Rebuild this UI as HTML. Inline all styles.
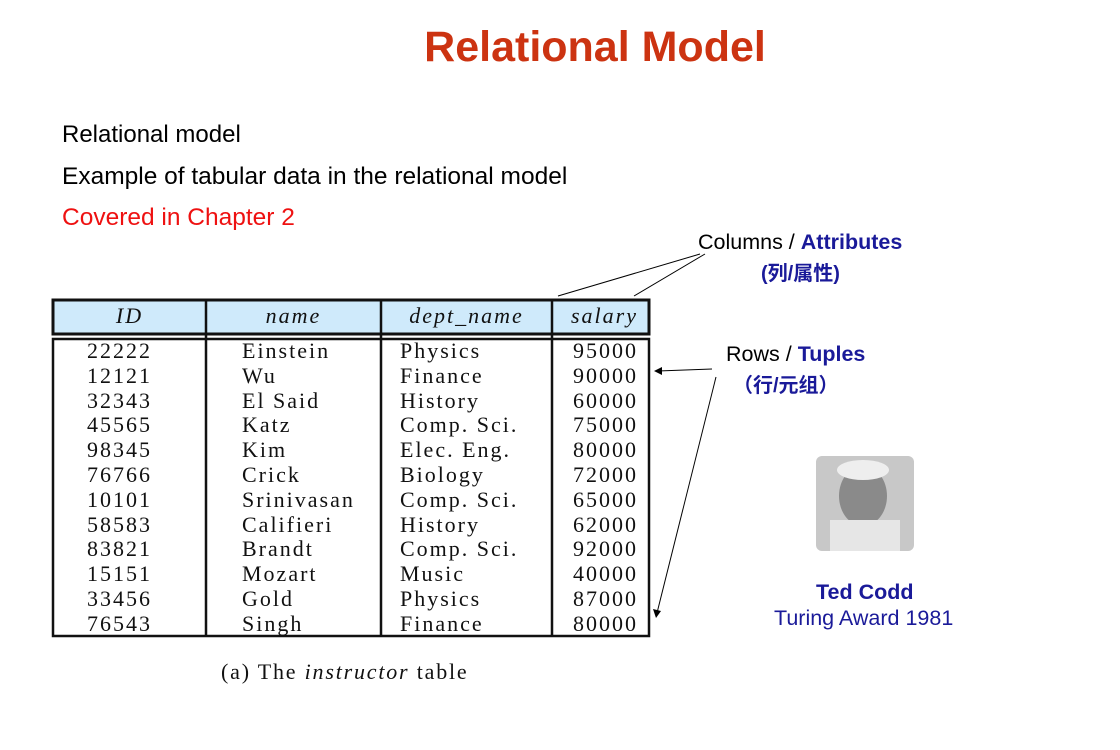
<!DOCTYPE html>
<html><head><meta charset="utf-8"><style>
body{margin:0;width:1120px;height:750px;background:#fff;position:relative;overflow:hidden;font-family:"Liberation Sans","Noto Sans CJK SC",sans-serif}
.a{position:absolute;white-space:nowrap}
.s{font-family:"Liberation Serif",serif;font-size:22px;color:#111;letter-spacing:2px}
</style></head><body>
<div class="a" style="left:0;width:1190px;text-align:center;top:23px;font-size:43px;font-weight:bold;color:#cc3311">Relational Model</div>
<div class="a" style="left:62px;top:121px;font-size:24px">Relational model</div>
<div class="a" style="left:62px;top:163px;font-size:24.5px">Example of tabular data in the relational model</div>
<div class="a" style="left:62px;top:204px;font-size:24.5px;color:#ee1111">Covered in Chapter 2</div>
<div class="a" style="left:698px;top:230px;font-size:21.5px">Columns / <b style="color:#1a1a99">Attributes</b></div>
<div class="a" style="left:761px;top:257px;font-size:20px;font-weight:bold;color:#1a1a99">(列/属性)</div>
<div class="a" style="left:726px;top:342px;font-size:21.5px">Rows / <b style="color:#1a1a99">Tuples</b></div>
<div class="a" style="left:733px;top:369px;font-size:20px;font-weight:bold;color:#1a1a99">（行/元组）</div>
<div class="a" style="left:816px;top:580px;font-size:21.5px;font-weight:bold;color:#1a1a99">Ted Codd</div>
<div class="a" style="left:774px;top:606px;font-size:21.5px;color:#1a1a99">Turing Award 1981</div>
<svg class="a" style="left:0;top:0" width="1120" height="750">
<rect x="53" y="300" width="596" height="34" fill="#cfeafb" stroke="#111" stroke-width="3"/>
<rect x="53" y="339" width="596" height="297" fill="none" stroke="#111" stroke-width="2.5"/>
<g stroke="#111" stroke-width="2.5"><line x1="206" y1="300" x2="206" y2="636"/><line x1="381" y1="300" x2="381" y2="636"/><line x1="552" y1="300" x2="552" y2="636"/></g>
<g stroke="#000" stroke-width="1" fill="none"><line x1="558" y1="296" x2="700" y2="254"/><line x1="634" y1="296" x2="705" y2="254"/>
<line x1="712" y1="369" x2="658" y2="371"/><line x1="716" y1="377" x2="657" y2="613"/></g>
<polygon points="654,371 662,367 662,375" fill="#000"/><polygon points="656,618 653,609 661,611" fill="#000"/>
<rect x="816" y="456" width="98" height="95" rx="6" fill="#c8c8c8"/>
<ellipse cx="863" cy="496" rx="24" ry="30" fill="#8a8a8a"/><ellipse cx="863" cy="470" rx="26" ry="10" fill="#eee"/>
<rect x="830" y="520" width="70" height="31" fill="#e6e6e6"/>
</svg>
<div class="a s" style="left:53px;top:303px;width:153px;text-align:center;font-style:italic">ID</div>
<div class="a s" style="left:206px;top:303px;width:175px;text-align:center;font-style:italic">name</div>
<div class="a s" style="left:381px;top:303px;width:171px;text-align:center;font-style:italic">dept_name</div>
<div class="a s" style="left:552px;top:303px;width:86px;text-align:right;font-style:italic">salary</div>
<div class="a s" style="left:87px;top:339px;line-height:24.8px">22222<br>12121<br>32343<br>45565<br>98345<br>76766<br>10101<br>58583<br>83821<br>15151<br>33456<br>76543</div>
<div class="a s" style="left:242px;top:339px;line-height:24.8px">Einstein<br>Wu<br>El Said<br>Katz<br>Kim<br>Crick<br>Srinivasan<br>Califieri<br>Brandt<br>Mozart<br>Gold<br>Singh</div>
<div class="a s" style="left:400px;top:339px;line-height:24.8px">Physics<br>Finance<br>History<br>Comp. Sci.<br>Elec. Eng.<br>Biology<br>Comp. Sci.<br>History<br>Comp. Sci.<br>Music<br>Physics<br>Finance</div>
<div class="a s" style="left:573px;top:339px;line-height:24.8px">95000<br>90000<br>60000<br>75000<br>80000<br>72000<br>65000<br>62000<br>92000<br>40000<br>87000<br>80000</div>
<div class="a s" style="left:221px;top:659px;letter-spacing:1.8px">(a) The <i>instructor</i> table</div>
</body></html>
